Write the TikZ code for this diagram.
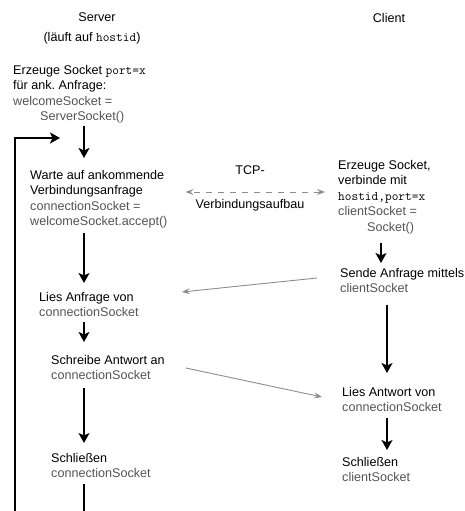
\documentclass[tikz,border=0pt]{standalone}
\usepackage{fontspec}
\setmainfont{Liberation Sans}
\usetikzlibrary{arrows.meta,calc}
\definecolor{codegray}{gray}{0.33}
\definecolor{msggray}{gray}{0.55}
\newcommand\cd[1]{{\color{codegray}#1}}
\newcommand\mono[1]{{\fontsize{13}{15.5}\selectfont\ttfamily #1}}
\frenchspacing
\begin{document}
\begin{tikzpicture}[x=1pt,y=-1pt,
  txt/.style={anchor=north west, inner sep=0pt, align=left,
              font=\fontsize{12.6}{15.5}\selectfont},
  hdr/.style={anchor=center, inner sep=0pt, font=\fontsize{12.6}{15.5}\selectfont},
  flow/.style={line width=2.3pt, -{Stealth[length=10pt,width=11pt,inset=2.5pt]}},
  loopback/.style={line width=2.3pt, line join=miter, -{Stealth[length=10pt,width=11pt,inset=2.5pt]}},
  msg/.style={draw=msggray, line width=0.9pt, -{Stealth[length=8pt,width=6pt,inset=3pt]}},
  handshake/.style={draw=msggray, line width=0.9pt, dash pattern=on 6pt off 6pt,
    {Stealth[length=8pt,width=6pt,inset=3pt]}-{Stealth[length=8pt,width=6pt,inset=3pt]}}
]
\useasboundingbox (0,0) rectangle (464,511);
\clip (0,0) rectangle (464,511);

% column headings
\node[hdr] (srv) at (97,17) {Server};
\node[hdr] (srvhost) at (92,38) {(läuft auf \mono{hostid})};
\node[hdr] (cli) at (389,18) {Client};

% server steps
\node[txt] (s1) at (13,65) {Erzeuge Socket \mono{port=x}\\für ank.\ Anfrage:\\\cd{welcomeSocket =}\\\cd{\hspace*{27pt}ServerSocket()}};
\node[txt] (s2) at (30,170) {Warte auf ankommende\\Verbindungsanfrage\\\cd{connectionSocket =}\\\cd{welcomeSocket.accept()}};
\node[txt] (s3) at (39,292) {Lies Anfrage von\\\cd{connectionSocket}};
\node[txt] (s4) at (51,355) {Schreibe Antwort an\\\cd{connectionSocket}};
\node[txt] (s5) at (51,453) {Schließen\\\cd{connectionSocket}};

% client steps
\node[txt] (c1) at (338,160) {Erzeuge Socket,\\verbinde mit\\\mono{hostid,port=x}\\\cd{clientSocket =}\\\cd{\hspace*{29pt}Socket()}};
\node[txt] (c2) at (340,268) {Sende Anfrage mittels\\\cd{clientSocket}};
\node[txt] (c3) at (342,387) {Lies Antwort von\\\cd{connectionSocket}};
\node[txt] (c4) at (342,457) {Schließen\\\cd{clientSocket}};

% connection setup label
\node[hdr] (tcpa) at (250,170) {TCP-};
\node[hdr] (tcpb) at (250,205) {Verbindungsaufbau};

% columns for the vertical flow arrows
\coordinate (sx) at (84,0);
\coordinate (cxa) at (381,0);
\coordinate (cxb) at (387,0);
\coordinate (tcpy) at (250,192);
\coordinate (loopin) at (60,138);

% server flow
\draw[flow] ($(s1.south -| sx)+(0,2)$) -- ($(s2.north -| sx)+(0,-12)$);
\draw[flow] ($(s2.south -| sx)+(0,4)$) -- ($(s3.north -| sx)+(0,-9)$);
\draw[flow] ($(s3.south -| sx)+(0,5)$) -- ($(s4.north -| sx)+(0,-13)$);
\draw[flow] ($(s4.south -| sx)+(0,8)$) -- ($(s5.north -| sx)+(0,-10)$);
\draw[loopback] ($(s5.south -| sx)+(0,6)$) -- (84,530) -- (15,530) -- (15,138) -- (loopin);

% client flow
\draw[flow] ($(c1.south -| cxa)+(0,9)$) -- ($(c2.north -| cxa)+(0,-5)$);
\draw[flow] ($(c2.south -| cxb)+(0,12)$) -- ($(c3.north -| cxb)+(0,-14)$);
\draw[flow] ($(c3.south -| cxb)+(0,6)$) -- ($(c4.north -| cxb)+(0,-7)$);

% messages between the two sides
\draw[handshake] ($(c1.west |- tcpy)+(-13,0)$) -- ($(s2.east |- tcpy)+(18,0)$);
\draw[msg] ($(c2.north west)+(-23,10)$) -- ($(s3.north east)+(43,0)$);
\draw[msg] ($(s4.north east)+(21,13)$) -- ($(c3.north west)+(-20,10)$);
\end{tikzpicture}
\end{document}
